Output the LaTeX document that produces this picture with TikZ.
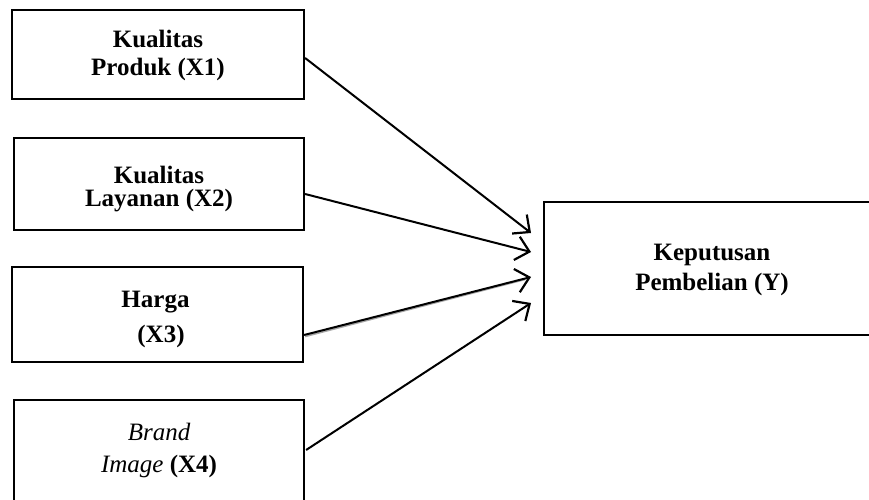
\documentclass[tikz,border=0pt]{standalone}
\usepackage{fontspec}
\setmainfont{Liberation Serif}
\usetikzlibrary{arrows.meta}
\begin{document}
\begin{tikzpicture}[x=1pt,y=-1pt,
  boxst/.style={draw=black,line width=2.2pt,rectangle,inner sep=0pt},
  txt/.style={anchor=base,inner sep=0pt,font=\fontsize{25}{28}\selectfont\bfseries},
  arr/.style={line width=2pt,-{Straight Barb[length=13pt,width=24pt,line width=2.2pt]}}]
\useasboundingbox (0,0) rectangle (869,500);
\clip (0,0) rectangle (869,500);
% boxes
\node[boxst,minimum width=292pt,minimum height=89pt] (b1) at (158,54.5) {};
\node[boxst,minimum width=290pt,minimum height=92pt] (b2) at (159,184) {};
\node[boxst,minimum width=291pt,minimum height=95pt] (b3) at (157.5,314.5) {};
\node[boxst,minimum width=290pt,minimum height=130pt] (b4) at (159,465) {};
\node[boxst,minimum width=360pt,minimum height=133pt] (y) at (724,268.5) {};
% texts
\node[txt] (t1a) at (158,48) {Kualitas};
\node[txt] (t1b) at (158,76) {Produk (X1)};
\node[txt] (t2a) at (159,183) {Kualitas};
\node[txt] (t2b) at (159,206) {Layanan (X2)};
\node[txt] (t3a) at (155.5,307) {Harga};
\node[txt] (t3b) at (161,342) {(X3)};
\node[txt] (t4a) at (159,440) {\mdseries\itshape Brand};
\node[txt] (t4b) at (159,472) {{\mdseries\itshape Image} (X4)};
\node[txt] (tya) at (712,260) {Keputusan};
\node[txt] (tyb) at (712,290) {Pembelian (Y)};
% arrow ends
\coordinate (e1) at (531,233);
\coordinate (e2) at (531,252);
\coordinate (e3) at (531,277);
\coordinate (e4) at (531,303);
% shadow of third arrow
\draw[line width=1.6pt,black!35] ([yshift=-22pt,xshift=1pt]b3.east) -- ([xshift=-6pt,yshift=-2.5pt]e3);
\draw[arr] ([yshift=-3.5pt]b1.east) -- (e1);
\draw[arr] ([yshift=-10pt]b2.east) -- (e2);
\draw[arr] ([yshift=-20.5pt]b3.east) -- (e3);
\draw[arr] ([xshift=1pt,yshift=15pt]b4.east) -- (e4);
\end{tikzpicture}
\end{document}
